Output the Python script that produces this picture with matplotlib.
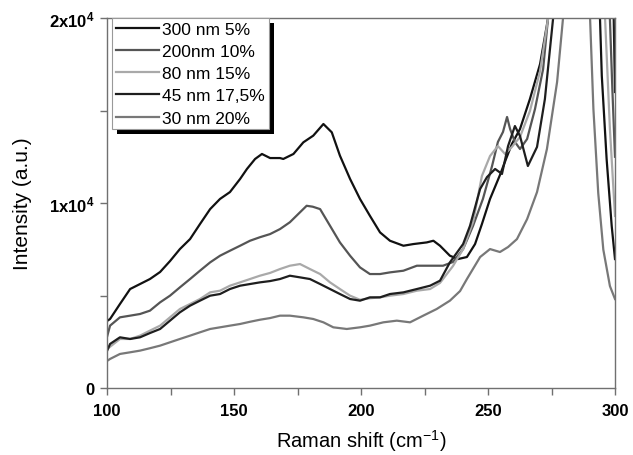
import matplotlib
matplotlib.use("Agg")
import matplotlib.pyplot as plt
from matplotlib.patches import Rectangle

plt.rcParams["font.family"] = ["Liberation Sans", "DejaVu Sans"]
plt.rcParams["mathtext.fontset"] = "custom"
plt.rcParams["mathtext.rm"] = "Liberation Sans"
plt.rcParams["mathtext.it"] = "Liberation Sans:italic"
plt.rcParams["mathtext.bf"] = "Liberation Sans:bold"

# Raman spectra (clipped above 2x10^4)
x_300 = [100, 101.2, 105.1, 109.1, 113, 116.9, 120.9, 124.8, 128.7, 132.7,
         136.6, 140.6, 144.5, 148.4, 152.4, 155.1, 158.3, 161, 164.2, 168.1,
         169.4, 173.4, 177.3, 181.2, 185.2, 188.5, 191.7, 195.7, 199.6, 203.5,
         207.5, 211.4, 216.7, 220.6, 225.9, 228.5, 231.1, 235, 238.2, 241.7,
         244.9, 247.6, 250.8, 254.7, 257.1, 259.4, 262.6, 266.5, 270.5, 273.6,
         275, 287, 293.5, 294.1, 294.8, 296.7, 298.7, 300]
y_300 = [3620, 3730, 4540, 5350, 5620, 5890, 6270, 6860, 7510, 8050,
         8860, 9670, 10220, 10590, 11300, 11840, 12380, 12650, 12430, 12430,
         12380, 12650, 13280, 13640, 14270, 13820, 12560, 11300, 10220, 9310,
         8410, 7960, 7690, 7780, 7870, 7960, 7690, 7150, 6970, 7080,
         7780, 8860, 10220, 11510, 12380, 13190, 14000, 15620, 17510, 19940,
         23000, 80000, 22600, 19940, 16880, 12380, 8760, 6970]

x_200 = [100, 101.2, 105.1, 109.1, 113, 116.9, 120.9, 124.8, 128.7, 132.7,
         136.6, 140.6, 144.5, 148.4, 152.4, 156.3, 160.2, 164.2, 168.1, 172,
         176, 178.6, 181, 183.9, 187.8, 191.7, 195.7, 199.6, 203.5, 207.5,
         211.4, 216.7, 222, 227.2, 232.3, 236.2, 240.2, 244.1, 248, 251.6,
         253.9, 255.9, 257.5, 258.7, 260.6, 262.6, 265.4, 268.5, 271.7, 273.6,
         275, 287, 297.3, 298, 299, 300]
y_200 = [2760, 3370, 3820, 3910, 4000, 4180, 4630, 4990, 5440, 5890,
         6340, 6790, 7150, 7420, 7690, 7960, 8150, 8320, 8590, 8960,
         9500, 9850, 9800, 9670, 8770, 7870, 7150, 6520, 6160, 6160,
         6250, 6340, 6610, 6610, 6610, 6810, 7510, 8760, 10220, 12000,
         13300, 13840, 14650, 14000, 13300, 12920, 13460, 15080, 17240, 19940,
         25000, 80000, 25000, 19940, 16000, 12500]

x_80 = [100, 105.1, 109.1, 113, 116.9, 120.9, 124.8, 128.7, 132.7, 136.6,
        140.6, 144.5, 148.4, 152.4, 156.3, 160.2, 164.2, 168.1, 172, 176,
        179.9, 183.9, 187.8, 191.7, 195.7, 199.6, 203.5, 207.5, 211.4, 216.7,
        222, 227.2, 231.1, 236.2, 240.2, 244.1, 247.6, 250.8, 253.9, 256.7,
        259.4, 262.6, 266.5, 270.5, 273.6, 275, 287, 295.5, 296.1, 298, 300]
y_80 = [2100, 2650, 2650, 2830, 3100, 3370, 3820, 4270, 4540, 4810,
        5170, 5260, 5530, 5710, 5890, 6070, 6220, 6430, 6610, 6700,
        6430, 6160, 5710, 5350, 4990, 4770, 4850, 4900, 4990, 5080,
        5260, 5350, 5680, 6590, 7510, 8970, 11460, 12540, 13080, 12650,
        13030, 13570, 14970, 17130, 19940, 25000, 80000, 23000, 19940, 14000, 9300]

x_45 = [100, 101.2, 105.1, 109.1, 113, 116.9, 120.9, 124.8, 128.7, 132.7,
        136.6, 140.6, 144.5, 148.4, 152.4, 156.3, 160.2, 164.2, 168.1, 172,
        176, 179.9, 183.9, 187.8, 191.7, 195.7, 199.6, 203.5, 207.5, 211.4,
        216.7, 222, 227.2, 231.1, 235, 240.2, 242.9, 246.9, 249.6, 252.8,
        255.5, 257.9, 260.6, 262.6, 265.7, 269.3, 272.4, 275.6, 277, 288,
        299, 299.5, 300]
y_45 = [2000, 2380, 2740, 2650, 2740, 2970, 3190, 3640, 4090, 4450,
        4720, 4990, 5080, 5350, 5530, 5620, 5710, 5780, 5890, 6070,
        5980, 5890, 5620, 5350, 5080, 4810, 4720, 4900, 4900, 5080,
        5170, 5350, 5530, 5800, 6790, 7780, 8760, 10760, 11400, 11840,
        11570, 13080, 14160, 13620, 12000, 13030, 15620, 19940, 25000, 80000,
        25000, 19940, 16000]

x_30 = [100, 101.2, 105.1, 109.1, 113, 116.9, 120.9, 124.8, 128.7, 132.7,
        136.6, 140.6, 144.5, 148.4, 152.4, 156.3, 160.2, 164.2, 168.1, 172,
        177.3, 181.2, 185.2, 189.1, 194.4, 199.6, 203.5, 208.8, 214.1, 219.3,
        224.5, 229.8, 235, 239, 241.7, 246.9, 250.8, 254.7, 257.9, 261.4,
        265.4, 269.3, 273.2, 277.2, 279.5, 281, 286, 289.5, 290.2, 291.5,
        293.4, 295.4, 298, 300]
y_30 = [1460, 1570, 1840, 1930, 2020, 2150, 2290, 2470, 2650, 2830,
        3010, 3190, 3280, 3370, 3460, 3580, 3690, 3780, 3910, 3910,
        3820, 3730, 3550, 3280, 3190, 3280, 3370, 3550, 3640, 3550,
        3910, 4270, 4720, 5240, 5890, 7080, 7510, 7350, 7620, 8050,
        9130, 10590, 12920, 16540, 19940, 26000, 80000, 24000, 19940, 15080,
        10540, 7480, 5510, 4810]

labels = ["300 nm 5%", "200nm 10%", "80 nm 15%", "45 nm 17,5%", "30 nm 20%"]
colors = ["#111111", "#555555", "#a9a9a9", "#1e1e1e", "#787878"]

x_ticks = [100, 150, 200, 250, 300]
y_ticks = [0, 10000, 20000]
y_tick_labels = ["0", r"$\mathbf{1x10^{4}}$", r"$\mathbf{2x10^{4}}$"]


def main() -> None:
    fig = plt.figure(figsize=(6.33, 4.56), dpi=100)
    ax = fig.add_axes([107 / 633, 1 - 389 / 456, 508 / 633, 370 / 456])

    series = [(x_300, y_300), (x_200, y_200), (x_80, y_80), (x_45, y_45), (x_30, y_30)]
    for (xs, ys), label, color in zip(series, labels, colors):
        ax.plot(xs, ys, color=color, lw=1.6, label=label)

    ax.set_xlim(100, 300)
    ax.set_ylim(0, 20000)
    ax.set_xticks(x_ticks)
    ax.set_xticks([125, 175, 225, 275], minor=True)
    ax.set_yticks(y_ticks)
    ax.set_yticklabels(y_tick_labels)
    ax.set_yticks([5000, 15000], minor=True)

    for spine in ax.spines.values():
        spine.set_color("#707070")
        spine.set_linewidth(1.0)
    ax.tick_params(which="both", direction="out", length=5, width=1,
                   color="#707070", top=False, right=False)
    ax.tick_params(axis="x", labelsize=12, pad=6)
    ax.tick_params(axis="y", labelsize=12, pad=4)
    for t in ax.get_xticklabels():
        t.set_fontweight("bold")
    for t in ax.get_yticklabels():
        t.set_fontweight("bold")

    ax.set_xlabel(r"Raman shift (cm$^{-1}$)", fontsize=14.5, labelpad=6)
    ax.set_ylabel("Intensity (a.u.)", fontsize=15, labelpad=12)

    leg = ax.legend(loc="upper left", bbox_to_anchor=(0.01, 1.0), borderaxespad=0,
                    fontsize=12.5, handlelength=2.5, handletextpad=0.2,
                    labelspacing=0.41, borderpad=0.2, fancybox=False,
                    framealpha=1, edgecolor="#999999")
    leg.get_frame().set_linewidth(0.8)
    leg.set_zorder(6)

    # solid black drop shadow behind the legend box
    fig.canvas.draw()
    bb = leg.get_window_extent().transformed(ax.transAxes.inverted())
    dx = 5 / 508
    dy = 5 / 370
    shadow = Rectangle((bb.x0 + dx, bb.y0 - dy), bb.width, bb.height,
                       transform=ax.transAxes, facecolor="black",
                       edgecolor="none", zorder=5, clip_on=False)
    ax.add_patch(shadow)

    fig.savefig("out.png", dpi=100)
    plt.close(fig)


if __name__ == "__main__":
    main()
